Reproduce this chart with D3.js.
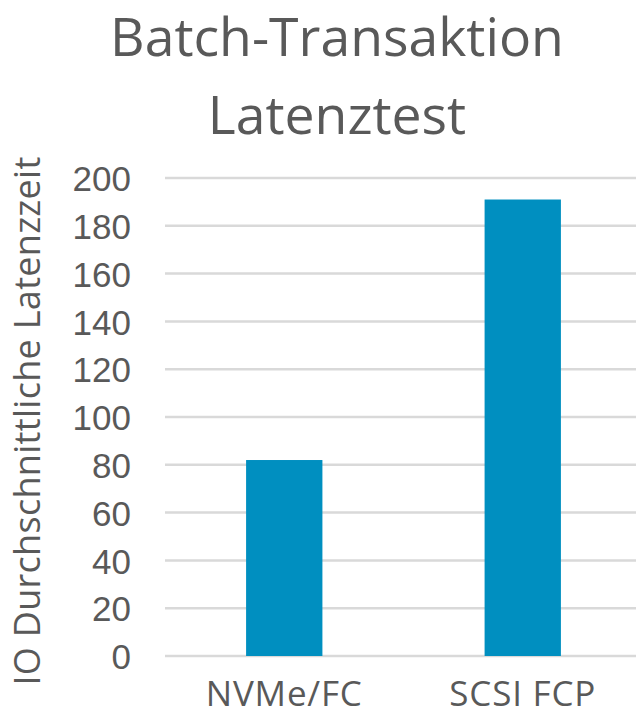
<!DOCTYPE html>
<html>
<head>
<meta charset="utf-8">
<script src="https://cdn.jsdelivr.net/npm/d3@7"></script>
<style>
  body { margin: 0; background: #fff; }
  svg { display: block; }
</style>
</head>
<body>
<div id="chart"></div>
<script>
// chart data
var categories = ["NVMe/FC", "SCSI FCP"];
var latency = [82, 191];
var yTicks = [0, 20, 40, 60, 80, 100, 120, 140, 160, 180, 200];
var titleLines = ["Batch-Transaktion", "Latenztest"];
var yLabel = "IO Durchschnittliche Latenzzeit";

var width = 636,
  height = 717;

var margin = { top: 178, right: -6, bottom: 61, left: 165 };

var textColor = "#595959",
  barColor = "#008fc0",
  gridColor = "#d9d9d9";

var svg = d3.select("#chart").append("svg")
  .attr("width", width)
  .attr("height", height);

var x = d3.scaleBand()
  .domain(categories)
  .range([margin.left, width - margin.right])
  .paddingInner(0.68)
  .paddingOuter(0.34);

var y = d3.scaleLinear()
  .domain([0, 200])
  .range([height - margin.bottom, margin.top]);

// gridlines
svg.append("g").selectAll("line")
  .data(yTicks)
  .enter().append("line")
  .attr("x1", margin.left)
  .attr("x2", width)
  .attr("y1", function(d) { return y(d); })
  .attr("y2", function(d) { return y(d); })
  .style("stroke", gridColor)
  .style("stroke-width", 2.5);

// y axis tick labels
var yAxis = d3.axisLeft(y).tickValues(yTicks).tickSize(0).tickPadding(0);
var yg = svg.append("g")
  .attr("transform", "translate(131,0)")
  .call(yAxis);
yg.select(".domain").remove();
yg.selectAll("text")
  .attr("dy", "0.36em")
  .style("font-family", "'Liberation Sans', Arial, sans-serif")
  .style("font-size", "35px")
  .style("fill", textColor);

// bars
svg.append("g").selectAll("rect")
  .data(latency)
  .enter().append("rect")
  .attr("x", function(d, i) { return x(categories[i]); })
  .attr("y", function(d) { return y(d); })
  .attr("width", x.bandwidth())
  .attr("height", function(d) { return y(0) - y(d); })
  .style("fill", barColor);

// category labels
var xAxis = d3.axisBottom(x).tickSize(0).tickPadding(0);
var xg = svg.append("g")
  .attr("transform", "translate(0,706)")
  .call(xAxis);
xg.select(".domain").remove();
xg.selectAll("text")
  .attr("dy", 0)
  .style("font-family", "'Open Sans', sans-serif")
  .style("font-size", "35px")
  .style("letter-spacing", "0.8px")
  .style("fill", textColor);

// title
svg.append("text")
  .attr("x", 337)
  .attr("y", 56)
  .attr("text-anchor", "middle")
  .style("font-family", "'Open Sans', sans-serif")
  .style("font-size", "53.5px")
  .style("fill", textColor)
  .selectAll("tspan")
  .data(titleLines)
  .enter().append("tspan")
  .attr("x", 337)
  .attr("dy", function(d, i) { return i ? 78 : 0; })
  .text(function(d) { return d; });

// y axis title
svg.append("text")
  .attr("transform", "translate(39.5,421) rotate(-90)")
  .attr("text-anchor", "middle")
  .style("font-family", "'Open Sans', sans-serif")
  .style("font-size", "36px")
  .style("letter-spacing", "0.3px")
  .style("fill", textColor)
  .text(yLabel);
</script>
</body>
</html>
